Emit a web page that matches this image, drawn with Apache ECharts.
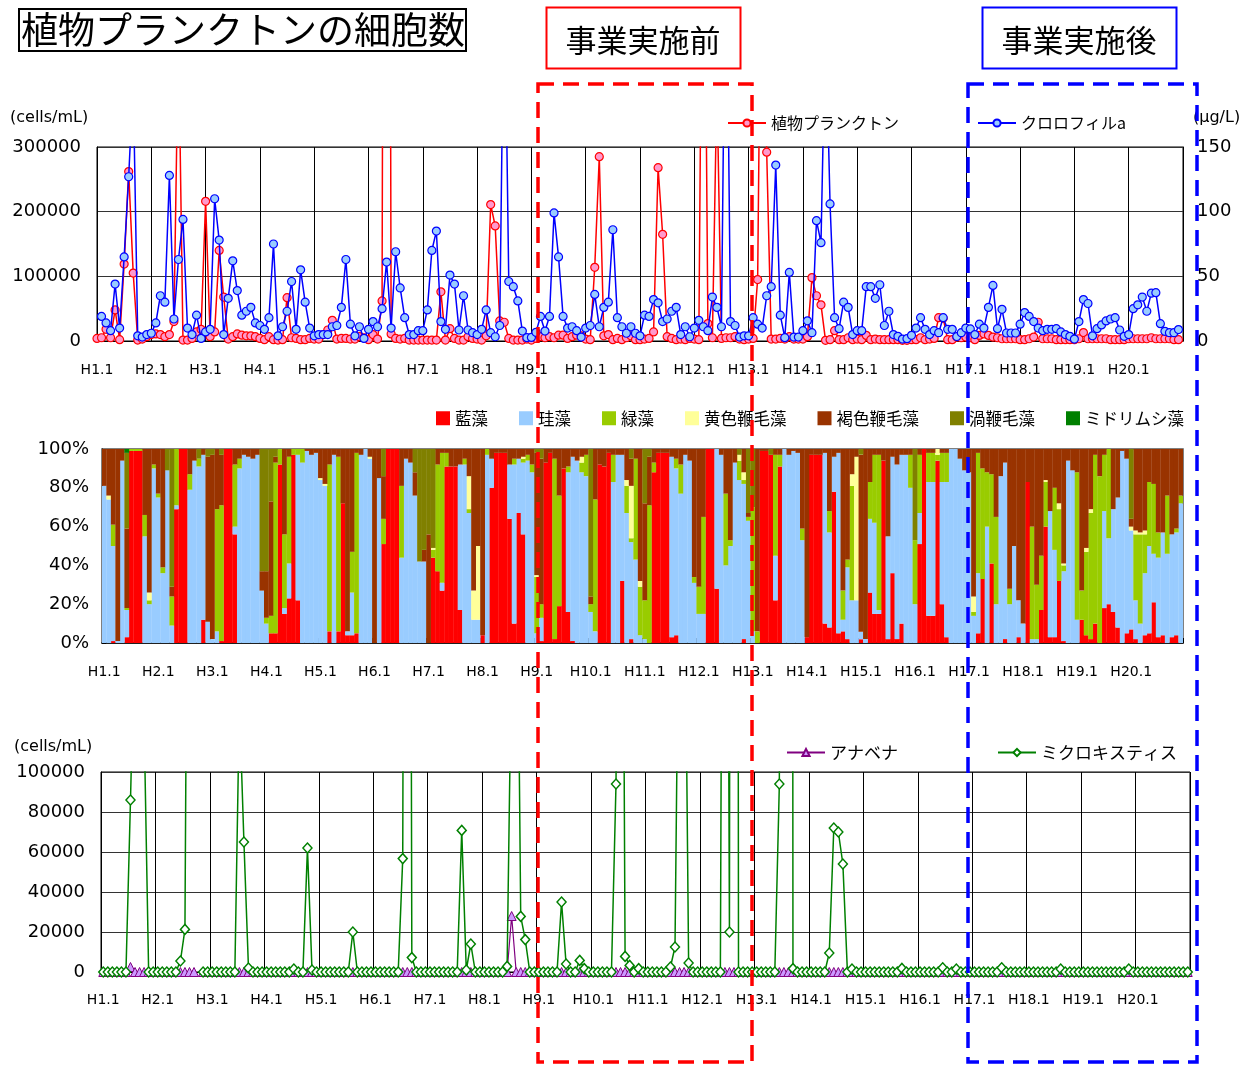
<!DOCTYPE html>
<html>
<head>
<meta charset="utf-8">
<script src="https://cdn.jsdelivr.net/npm/echarts@6/dist/echarts.min.js"></script>
<style>
html,body{margin:0;padding:0;background:#fff}
#chart{width:1255px;height:1066px}
</style>
</head>
<body>
<div id="chart"></div>
<script>
// Monthly survey H1.1 - H20.12 (240 months)
const months = [];
for (let y = 1; y <= 20; y++) for (let m = 1; m <= 12; m++) months.push('H' + y + '.' + m);

// Phytoplankton cell count (cells/mL), one row per year
const phytoplankton = [
  4000,5000,18000,5000,48000,2000,119000,262000,105000,1500,3000,6700,
  10000,11000,10000,6700,10000,30000,480000,1500,1500,4000,14000,18000,
  216000,6700,14000,140000,68000,3000,6700,11000,9000,8000,8000,6700,
  4000,2000,6700,2000,1500,2000,67000,5000,4000,2000,2000,4000,
  3000,3000,10000,17000,32000,3000,4000,4000,3000,3000,6700,5000,
  2000,10000,3000,62000,3000000,11000,4000,3000,4000,1500,1500,1500,
  1500,1500,1500,1500,76000,1500,19000,4000,1500,1500,6700,4000,
  3000,1500,8000,211000,178000,31000,29000,4000,1500,1500,1500,3000,
  1500,4000,6700,5000,6700,5000,9000,9000,4000,6700,9000,8000,
  3000,2000,114000,285000,8000,10000,2000,4000,2000,5000,8000,2000,
  2000,3000,4000,14000,268000,165000,6700,4000,2000,3000,2000,4000,
  3000,2000,900000,27000,5000,400000,4000,5000,5000,6700,3000,2000,
  3000,4000,95000,800000,292000,3000,3000,4000,3000,6700,3000,3000,
  3000,6700,98000,70000,56000,1000,2000,16000,2000,2000,5000,2000,
  3000,2000,8700,2000,3000,2000,2000,2000,2000,2000,1000,1000,
  2000,2000,5000,2000,3000,4000,36000,35000,2000,2000,6000,5000,
  6000,5000,2000,8700,11000,8700,6000,5000,3500,3500,3500,3500,
  2000,2000,3500,6000,29000,3500,3500,3500,2000,2000,2000,2000,
  2000,3500,13000,3500,3500,3500,3500,3500,2000,2000,2000,2000,
  3500,3500,3500,3500,3500,5000,3500,3500,3500,3500,2000,2000
];

// Chlorophyll a (µg/L)
const chlorophyllA = [
  '-',19,14,8,44,10,65,127,200,4,3,5,
  6,14,35,30,128,17,63,94,10,5,20,2,
  7,9,110,78,5,33,62,39,20,23,26,14,
  12,9,18,75,4,11,23,46,9,55,30,10,
  4,5,5,5,11,12,26,63,13,4,11,2,
  9,15,11,25,61,10,69,41,18,5,5,8,
  8,24,70,85,15,9,51,44,8.5,35,8.5,6.4,
  5,9,24,6.4,3.3,12,300,46,42,31,7.7,2.6,
  2.8,6.7,19,7.7,19,99,65,19,10,11,8,3,
  10,12,36,11,26,30,86,18,11,6,11,6,
  4,20,19,32,29.5,15,17,23,26,5,11,3.3,
  10,16,11,8,34,26,11,350,15,12,3,4,
  4,18,13,10,35,42,136,20,2.6,53,3,3,
  8,15.6,6.4,93,76,250,106,18,9.5,30,26,5,
  8,8,42,42,33,43.5,12,23,5,3.6,1.5,1.8,
  4.4,10,18,9,5,8,6.4,18,9,9,3.4,6.4,
  10,9.3,5,13,10,26,43,9.5,24.5,6.2,6.2,6.2,
  13,22,19,15,10,8,9,9,9.5,7,5,3.6,
  1.5,15,32,29,4,9.5,12.4,15.5,17,18,8.5,3.6,
  5,25,28,34,23,37,37.4,13.4,7.5,6.4,6.4,8.8
];

// Composition by group (% of cells), one row per year
const cyanobacteria = [
  0,0,1,0,0,3,99,99,99,0,0,0,
  0,0,0,0,69,100,100,0,0,0,12,0,
  0,0,1,100,100,56,0,0,0,0,0,0,
  0,5,5,92,15,23,97,22,0,0,0,0,
  0,0,6,0,6,72,4,4,5,0,0,0,
  0,0,51,100,100,100,0,0,0,0,0,0,
  0,44,37,27,91,91,91,17,0,0,0,0,
  4,0,80,98,98,98,64,10,67,56,0,0,
  0,1,93,98,2,19,90,16,1,0,0,0,
  0,0,92,91,98,0,0,32,0,2,0,0,
  0,0,88,98,98,98,3,4,0,0,0,0,
  0,0,100,100,28,0,0,0,0,0,2,0,
  0,0,99,99,97,22,91,0,0,0,0,0,
  3,97,97,97,10,8,78,5,6,2,0,0,
  2,0,26,15,15,94,2,36,2,10,0,0,
  0,51,100,14,14,94,20,3,0,0,0,0,
  0,0,5,33,0,41,0,0,2,0,0,3,
  0,83,0,0,17,60,3,3,32,1,0,0,
  0,12,4,2,10,0,18,20,16,8,0,5,
  7,2,0,4,5,21,3,4,0,3,4,0
];
const diatoms = [
  81,74,49,1,94,14,0,0,0,55,20,90,
  75,36,89,9,2,0,0,79,94,91,85,11,
  2,6,0,0,0,4,90,97,96,95,97,27,
  10,0,0,0,3,18,0,75,93,99,97,98,
  84,81,0,97,0,0,2,22,0,97,100,95,
  0,85,0,0,0,0,44,95,93,76,42,42,
  0,0,0,4,0,0,0,75,92,67,12,12,
  0,97,15,0,0,0,28,82,28,37,94,88,
  5,12,0,0,0,0,0,72,95,94,88,86,
  16,6,0,0,0,83,97,65,67,50,43,4,
  2,0,0,0,0,0,93,86,77,97,94,31,
  15,15,0,0,72,97,40,50,93,84,80,63,
  6,0,0,0,0,23,0,100,97,99,98,53,
  0,0,0,0,88,49,18,93,6,37,22,22,
  4,2,38,47,2,0,53,60,90,87,97,80,
  20,16,0,69,69,0,63,80,100,100,95,89,
  88,14,31,0,60,0,20,86,91,20,50,19,
  10,0,2,2,0,0,65,45,0,36,94,89,
  12,0,0,0,0,0,50,34,53,67,99,90,
  51,20,10,32,45,25,41,53,46,53,53,72
];
const greenAlgae = [
  0,0,11,0,0,1,1,1,1,11,2,2,
  2,3,0,15,29,0,0,8,0,4,0,0,
  0,63,70,0,0,32,5,0,0,0,0,0,
  3,9,88,8,38,55,3,3,7,0,0,0,
  0,0,86,0,90,0,0,21,93,0,0,0,
  0,0,13,0,0,0,37,0,0,0,0,0,
  0,4,55,67,7,0,0,0,3,2,0,0,
  0,3,0,0,0,0,0,3,0,2,3,4,
  29,7,0,0,93,57,0,3,0,0,5,11,
  4,68,0,0,0,14,0,0,14,2,52,25,
  20,71,5,0,0,0,0,5,15,0,0,3,
  14,50,0,0,0,0,37,3,0,10,2,2,
  64,6,0,0,0,52,6,0,0,0,0,6,
  0,0,0,0,0,11,0,0,15,4,59,0,
  0,0,19,35,80,0,0,0,0,0,0,17,
  33,30,0,15,15,3,15,15,0,0,0,0,
  0,2,62,57,28,46,45,0,0,8,0,0,
  0,0,58,28,28,23,0,32,37,3,0,0,
  76,15,43,65,87,86,29,46,0,0,0,0,
  0,34,46,20,33,36,13,0,30,0,2,4
];
const yellowFlagellates = [
  0,2,0,0,0,0,0,0,0,0,4,0,
  0,0,0,0,0,0,0,0,0,0,0,0,
  0,0,0,0,0,0,0,0,0,0,0,0,
  0,0,0,0,0,0,0,0,0,0,0,0,
  1,1,0,0,0,0,0,0,0,0,0,1,
  0,0,0,0,0,0,0,0,0,0,0,0,
  0,1,0,0,0,0,0,0,0,17,15,38,
  0,0,0,0,0,0,0,0,0,1,0,0,
  1,0,0,0,0,0,0,0,0,0,3,0,
  0,0,0,0,0,0,0,0,3,27,0,3,
  0,0,0,0,0,0,0,0,0,0,0,0,
  0,0,0,0,0,0,0,0,0,3,4,0,
  0,0,0,0,0,0,0,0,0,0,0,0,
  0,0,0,0,0,0,0,0,0,0,6,74,
  0,0,0,0,0,0,0,0,0,0,0,0,
  0,0,0,0,0,3,0,0,0,0,0,0,
  0,8,0,0,0,0,0,0,0,0,0,0,
  0,0,0,0,0,1,0,0,3,1,0,0,
  0,0,2,2,0,0,0,0,0,0,0,0,
  2,2,1,2,0,0,0,0,0,0,0,0
];
const brownFlagellates = [
  19,24,39,99,6,41,0,0,0,34,74,8,
  23,61,0,5,0,0,0,13,6,0,3,85,
  95,31,26,0,0,8,5,3,4,5,3,10,
  24,59,3,0,44,4,0,0,0,1,3,2,
  15,18,8,3,4,28,94,53,2,3,0,4,
  100,15,22,0,0,0,19,5,7,12,0,6,
  56,0,8,2,2,9,9,8,5,14,73,50,
  96,0,5,2,2,2,8,5,5,4,3,8,
  63,75,7,2,5,24,10,9,4,6,4,3,
  4,26,8,9,2,3,3,3,16,14,5,68,
  50,25,7,2,2,2,4,5,8,3,6,66,
  71,35,0,0,0,3,23,47,7,0,12,2,
  0,94,1,1,0,3,3,0,3,1,2,41,
  97,3,3,3,2,32,4,2,73,57,13,4,
  94,95,17,3,3,6,45,4,8,3,3,3,
  0,3,0,2,2,0,2,2,0,0,5,11,
  12,76,2,10,12,13,35,14,7,72,50,78,
  90,17,40,70,55,16,32,20,28,59,6,11,
  12,73,51,31,3,14,3,0,31,25,1,5,
  4,42,43,42,17,18,43,43,24,44,41,24
];
const dinoflagellates = [
  0,0,0,0,0,39,0,0,0,0,0,0,
  0,0,11,71,0,0,0,0,0,5,0,4,
  3,0,3,0,0,0,0,0,0,0,0,63,
  63,27,4,0,0,0,0,0,0,0,0,0,
  0,0,0,0,0,0,0,0,0,0,0,0,
  0,0,14,0,0,0,0,0,0,12,58,52,
  44,51,0,0,0,0,0,0,0,0,0,0,
  0,0,0,0,0,0,0,0,0,0,0,0,
  2,5,0,0,0,0,0,0,0,0,0,0,
  76,0,0,0,0,0,0,0,0,5,0,0,
  28,4,0,0,0,0,0,0,0,0,0,0,
  0,0,0,0,0,0,0,0,0,3,0,33,
  30,0,0,0,3,0,0,0,0,0,0,0,
  0,0,0,0,0,0,0,0,0,0,0,0,
  3,0,0,0,0,0,0,0,0,0,0,0,
  47,0,0,0,0,0,0,0,0,0,0,0,
  0,0,0,0,0,0,0,0,0,0,0,0,
  0,0,0,0,0,0,0,0,0,0,0,0,
  0,0,0,0,0,0,0,0,0,0,0,0,
  36,0,0,0,0,0,0,0,0,0,0,0
];
const euglenoids = [
  0,0,0,0,0,2,0,0,0,0,0,0
].concat(new Array(228).fill(0));

// Anabaena and Microcystis (cells/mL)
const anabaena = [
  0,0,0,0,0,0,2500,0,0,0,0,0,
  0,0,0,0,0,0,0,0,0,'-',0,0,
  0,0,0,0,0,0,0,0,0,0,0,0,
  0,0,0,0,0,0,0,0,0,0,0,0,
  0,0,0,0,0,0,0,0,0,0,0,0,
  0,0,0,0,0,0,0,0,0,0,0,0,
  0,0,0,0,0,0,0,0,0,0,0,0,
  0,0,0,0,0,0,28000,0,0,0,0,0,
  0,0,0,0,0,0,0,0,0,0,0,0,
  0,0,0,0,0,0,0,0,0,0,0,0,
  0,0,0,0,0,0,0,0,0,0,0,0,
  0,0,0,0,0,0,0,0,0,0,0,0,
  0,0,0,0,0,0,0,0,0,0,0,0,
  0,0,0,0,0,0,0,0,0,0,0,0,
  0,0,0,0,0,0,0,0,0,0,0,0,
  0,0,0,0,0,0,0,0,0,0,0,0,
  0,0,0,0,0,0,0,0,0,0,0,0,
  0,0,0,0,0,0,0,0,0,0,0,0,
  0,0,0,0,0,0,0,0,0,0,0,0,
  0,0,0,0,0,0,0,0,0,0,0,0
];
const microcystis = [
  0,0,0,0,0,0,86000,180000,200000,125000,0,0,
  0,0,0,0,0,5500,21300,415000,'-','-',0,0,
  0,0,0,0,0,0,134000,65000,2000,0,0,0,
  0,0,0,0,0,0,1500,0,0,62000,1000,0,
  0,0,0,0,0,0,0,20000,0,0,0,0,
  0,0,0,0,0,0,56700,1000000,7200,0,0,0,
  0,0,0,0,0,0,0,70800,1000,14000,0,0,
  0,0,0,0,0,2800,165000,268000,27800,16200,0,0,
  0,0,0,0,0,35000,4000,0,0,5800,1700,0,
  0,0,0,0,0,94000,470000,7800,3300,0,1700,0,
  0,0,0,0,0,2500,12500,231000,243000,4500,0,0,
  0,0,0,0,0,600000,20000,2000000,0,0,0,0,
  0,0,0,0,0,94000,3000000,3000000,1700,0,0,0,
  0,0,0,0,9500,72000,70000,54000,0,1500,0,0,
  0,0,0,0,0,0,0,0,1800,0,0,0,
  0,0,0,0,0,2100,0,0,1500,0,0,0,
  0,0,0,0,0,0,2100,0,0,0,0,0,
  0,0,0,0,0,0,0,1500,0,0,0,0,
  0,0,0,0,0,0,0,0,0,0,1500,0,
  0,0,0,0,0,0,0,0,0,0,0,0
];

const groups = [
  { name: '藍藻',       color: '#FF0000', data: cyanobacteria },
  { name: '珪藻',       color: '#99CCFF', data: diatoms },
  { name: '緑藻',       color: '#99CC00', data: greenAlgae },
  { name: '黄色鞭毛藻', color: '#FFFF99', data: yellowFlagellates },
  { name: '褐色鞭毛藻', color: '#993300', data: brownFlagellates },
  { name: '渦鞭毛藻',   color: '#808000', data: dinoflagellates },
  { name: 'ミドリムシ藻', color: '#008000', data: euglenoids }
];

// each month is shown as a 100 % stack
const totals = months.map((_, i) => groups.reduce((s, g) => s + g.data[i], 0) || 1);

const JP = '"Noto Sans CJK JP", sans-serif';
const LAT = '"DejaVu Sans", Verdana, sans-serif';
const yearLabel = idx => idx % 12 === 0;

const chart = echarts.init(document.getElementById('chart'), null, { renderer: 'canvas' });

const axisLine = { show: true, lineStyle: { color: '#000', width: 1 } };
const catAxisLabel = { interval: yearLabel, fontFamily: LAT, fontSize: 14, color: '#000', margin: 22 };

const option = {
  animation: false,
  backgroundColor: '#fff',
  grid: [
    { left: 97, top: 147, width: 1086, height: 194, show: true, borderColor: '#000', borderWidth: 1 },
    { left: 102, top: 449, width: 1081, height: 194, show: true, borderColor: '#555', borderWidth: 1.5 },
    { left: 101, top: 772, width: 1089, height: 200, show: true, borderColor: '#000', borderWidth: 1 }
  ],
  xAxis: [
    {
      gridIndex: 0, type: 'value', min: 0, max: 240, interval: 12,
      axisLine, axisTick: { show: false },
      splitLine: { show: true, lineStyle: { color: '#000', width: 1 } },
      axisLabel: { formatter: v => months[v] || '', fontFamily: LAT, fontSize: 14, color: '#000', margin: 22 }
    },
    {
      gridIndex: 1, type: 'category', data: months, boundaryGap: true,
      axisLine: { show: true, lineStyle: { color: '#000', width: 1.5 } },
      axisTick: { show: true, inside: true, length: 5, interval: yearLabel, lineStyle: { color: '#000' } },
      splitLine: { show: false },
      axisLabel: catAxisLabel
    },
    {
      gridIndex: 2, type: 'category', data: months, boundaryGap: true,
      axisLine, axisTick: { show: false },
      splitLine: { show: true, interval: yearLabel, lineStyle: { color: '#000', width: 1 } },
      axisLabel: Object.assign({}, catAxisLabel, { margin: 21 })
    }
  ],
  yAxis: [
    {
      gridIndex: 0, type: 'value', min: 0, max: 300000, interval: 100000,
      axisLine, axisTick: { show: false },
      splitLine: { show: true, lineStyle: { color: '#333', width: 1 } },
      axisLabel: { formatter: v => String(v), fontFamily: LAT, fontSize: 18, color: '#000', margin: 16 }
    },
    {
      gridIndex: 0, type: 'value', position: 'right', min: 0, max: 150, interval: 50,
      axisLine, axisTick: { show: false }, splitLine: { show: false },
      axisLabel: { formatter: v => String(v), fontFamily: LAT, fontSize: 18, color: '#000', margin: 14 }
    },
    {
      gridIndex: 1, type: 'value', min: 0, max: 100, interval: 20,
      axisLine, axisTick: { show: true, inside: true, length: 4, lineStyle: { color: '#000' } },
      splitLine: { show: false },
      axisLabel: { formatter: '{value}%', fontFamily: LAT, fontSize: 18, color: '#000', margin: 13 }
    },
    {
      gridIndex: 2, type: 'value', min: 0, max: 100000, interval: 20000,
      axisLine, axisTick: { show: false },
      splitLine: { show: true, lineStyle: { color: '#333', width: 1 } },
      axisLabel: { formatter: v => String(v), fontFamily: LAT, fontSize: 18, color: '#000', margin: 16 }
    }
  ],
  legend: [
    {
      left: 727, top: 115, padding: 0, itemWidth: 38, itemHeight: 9,
      data: ['植物プランクトン'],
      textStyle: { fontFamily: JP, fontSize: 16, color: '#000' }
    },
    {
      left: 977, top: 115, padding: 0, itemWidth: 38, itemHeight: 9,
      data: ['クロロフィルa'],
      textStyle: { fontFamily: JP, fontSize: 16, color: '#000' }
    },
    {
      left: 436, top: 410, padding: 0, itemWidth: 14, itemHeight: 14, itemGap: 31,
      icon: 'rect',
      data: groups.map(g => g.name),
      textStyle: { fontFamily: JP, fontSize: 16.5, color: '#000' }
    },
    {
      left: 786, top: 744, padding: 0, itemWidth: 38, itemHeight: 9,
      data: ['アナベナ'],
      textStyle: { fontFamily: JP, fontSize: 17, color: '#000' }
    },
    {
      left: 997, top: 744, padding: 0, itemWidth: 38, itemHeight: 9,
      data: ['ミクロキスティス'],
      textStyle: { fontFamily: JP, fontSize: 17, color: '#000' }
    }
  ],
  series: [
    {
      name: '植物プランクトン', type: 'line', xAxisIndex: 0, yAxisIndex: 0,
      data: phytoplankton.map((v, i) => [i, v]),
      symbol: 'circle', symbolSize: 8, showAllSymbol: true,
      lineStyle: { color: '#FF0000', width: 1.5 },
      itemStyle: { color: '#FF99CC', borderColor: '#FF0000', borderWidth: 1.2 },
      clip: true, z: 3
    },
    {
      name: 'クロロフィルa', type: 'line', xAxisIndex: 0, yAxisIndex: 1,
      data: chlorophyllA.map((v, i) => [i, v]),
      symbol: 'circle', symbolSize: 8, showAllSymbol: true,
      lineStyle: { color: '#0000FF', width: 1.5 },
      itemStyle: { color: '#99CCFF', borderColor: '#0000FF', borderWidth: 1.2 },
      clip: true, z: 4
    },
    ...groups.map(g => ({
      name: g.name, type: 'bar', xAxisIndex: 1, yAxisIndex: 2, stack: 'share',
      barWidth: 4.8, barCategoryGap: '0%',
      itemStyle: { color: g.color, borderWidth: 0 },
      data: g.data.map((v, i) => v / totals[i] * 100)
    })),
    {
      name: 'アナベナ', type: 'line', xAxisIndex: 2, yAxisIndex: 3,
      data: anabaena,
      symbol: 'triangle', symbolSize: 9, showAllSymbol: true,
      lineStyle: { color: '#800080', width: 1.2 },
      itemStyle: { color: '#CC99FF', borderColor: '#800080', borderWidth: 1 },
      clip: true, z: 3
    },
    {
      name: 'ミクロキスティス', type: 'line', xAxisIndex: 2, yAxisIndex: 3,
      data: microcystis,
      symbol: 'diamond', symbolSize: [9, 10], showAllSymbol: true,
      lineStyle: { color: '#008000', width: 1.5 },
      itemStyle: { color: '#FFFFFF', borderColor: '#008000', borderWidth: 1.5 },
      clip: true, z: 4
    }
  ],
  graphic: [
    { type: 'rect', shape: { x: 19, y: 9, width: 447, height: 42 },
      style: { fill: '#fff', stroke: '#000', lineWidth: 2 }, z: 10 },
    { type: 'text', x: 21, y: 30, z: 11,
      style: { text: '植物プランクトンの細胞数', font: '37px ' + JP, fill: '#000', verticalAlign: 'middle' } },
    { type: 'rect', shape: { x: 546.5, y: 7.5, width: 194, height: 61 },
      style: { fill: '#fff', stroke: '#FF0000', lineWidth: 2 }, z: 10 },
    { type: 'text', x: 643, y: 40, z: 11,
      style: { text: '事業実施前', font: '31px ' + JP, fill: '#000', align: 'center', verticalAlign: 'middle' } },
    { type: 'rect', shape: { x: 982.5, y: 7.5, width: 194, height: 61 },
      style: { fill: '#fff', stroke: '#0000FF', lineWidth: 2 }, z: 10 },
    { type: 'text', x: 1079, y: 40, z: 11,
      style: { text: '事業実施後', font: '31px ' + JP, fill: '#000', align: 'center', verticalAlign: 'middle' } },
    { type: 'text', x: 10, y: 118, z: 11,
      style: { text: '(cells/mL)', font: '16px ' + LAT, fill: '#000', verticalAlign: 'middle' } },
    { type: 'text', x: 1193, y: 118, z: 11,
      style: { text: '(µg/L)', font: '16px ' + LAT, fill: '#000', verticalAlign: 'middle' } },
    { type: 'text', x: 14, y: 747, z: 11,
      style: { text: '(cells/mL)', font: '16px ' + LAT, fill: '#000', verticalAlign: 'middle' } },
    { type: 'rect', shape: { x: 538, y: 84, width: 214, height: 978 }, z: 20,
      style: { fill: 'none', stroke: '#FF0000', lineWidth: 3.5, lineDash: [16, 9] } },
    { type: 'rect', shape: { x: 968, y: 84, width: 229, height: 978 }, z: 20,
      style: { fill: 'none', stroke: '#0000FF', lineWidth: 3.5, lineDash: [16, 9] } }
  ]
};

chart.setOption(option);
</script>
</body>
</html>
